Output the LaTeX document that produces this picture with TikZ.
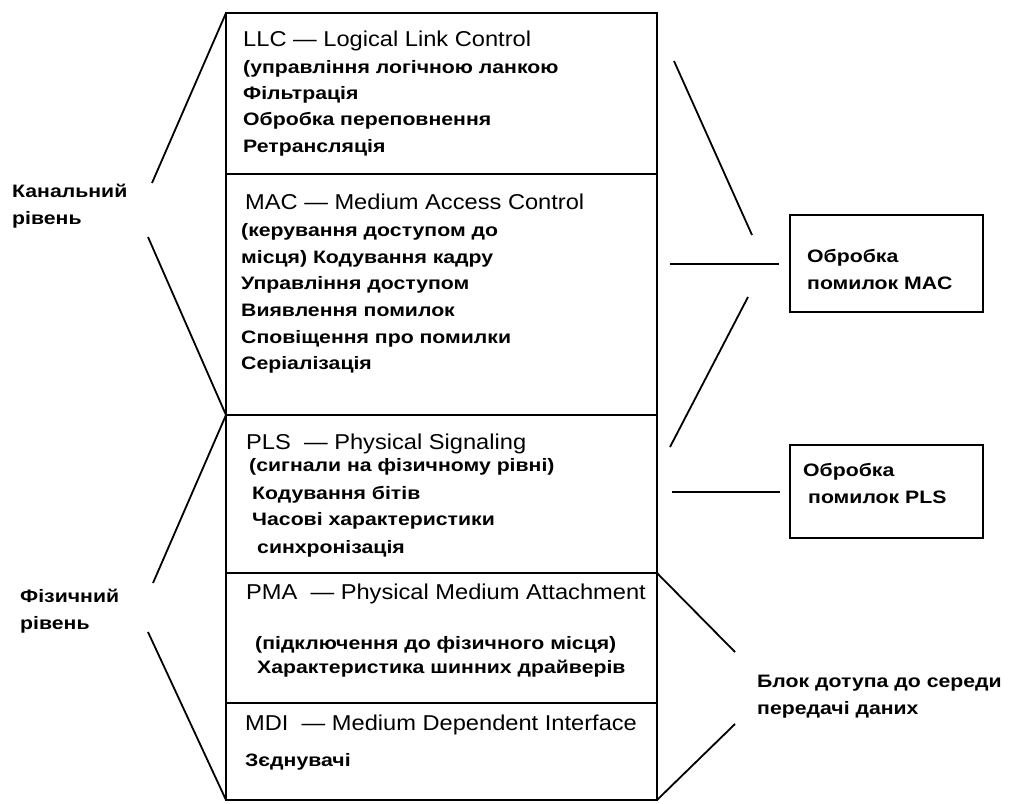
\documentclass[tikz,border=0pt]{standalone}
\usepackage{fontspec}
\newfontfamily\ttlfont[FakeStretch=1.1]{Liberation Sans}
\newfontfamily\bldfont[FakeStretch=1.18]{Liberation Sans}
\tikzset{
  layer/.style={draw, line width=1.8pt, minimum width=431pt, anchor=north west, inner sep=0pt, outer sep=0pt},
  sidebox/.style={draw, line width=1.8pt, minimum width=193pt, anchor=north west, inner sep=0pt, outer sep=0pt},
  ttl/.style={anchor=west, inner sep=0pt, text height=15.4pt, text depth=0pt, font=\ttlfont\fontsize{21.5}{24}\selectfont},
  txt/.style={anchor=west, inner sep=0pt, text height=12pt, text depth=0pt, font=\bldfont\bfseries\fontsize{18}{22}\selectfont},
  conn/.style={line width=1.8pt}
}
\begin{document}
\begin{tikzpicture}[x=1pt, y=-1pt]
\useasboundingbox (0,0) rectangle (1009,803);
% layers
\node[layer, minimum height=161pt] (llc) at (226,13) {};
\node[layer, minimum height=241pt] (mac) at (226,174) {};
\node[layer, minimum height=158pt] (pls) at (226,415) {};
\node[layer, minimum height=130pt] (pma) at (226,573) {};
\node[layer, minimum height=97pt] (mdi) at (226,703) {};
% LLC
\node[ttl] (llct) at (243,39) {LLC — Logical Link Control};
\node[txt] (llc1) at (243,67) {(управління логічною ланкою};
\node[txt] (llc2) at (243,93) {Фільтрація};
\node[txt] (llc3) at (243,119) {Обробка переповнення};
\node[txt] (llc4) at (243,146) {Ретрансляція};
% MAC
\node[ttl] (mact) at (245,202) {MAC — Medium Access Control};
\node[txt] (mac1) at (241,230) {(керування доступом до};
\node[txt] (mac2) at (241,257) {місця) Кодування кадру};
\node[txt] (mac3) at (241,283) {Управління доступом};
\node[txt] (mac4) at (241,310) {Виявлення помилок};
\node[txt] (mac5) at (241,337) {Сповіщення про помилки};
\node[txt] (mac6) at (241,363) {Серіалізація};
% PLS
\node[ttl] (plst) at (246,442) {PLS \ — Physical Signaling};
\node[txt] (pls1) at (249,465) {(сигнали на фізичному рівні)};
\node[txt] (pls2) at (252,493) {Кодування бітів};
\node[txt] (pls3) at (252,519) {Часові характеристики};
\node[txt] (pls4) at (257,547) {синхронізація};
% PMA
\node[ttl] (pmat) at (246,592) {PMA \ — Physical Medium Attachment};
\node[txt] (pma1) at (255,643) {(підключення до фізичного місця)};
\node[txt] (pma2) at (257,667) {Характеристика шинних драйверів};
% MDI
\node[ttl] (mdit) at (245,723) {MDI \ — Medium Dependent Interface};
\node[txt] (mdi1) at (245,760) {Зєднувачі};
% left labels
\node[txt] (kan1) at (12,191) {Канальний};
\node[txt] (kan2) at (12,218) {рівень};
\node[txt] (fiz1) at (20,596) {Фізичний};
\node[txt] (fiz2) at (20,623) {рівень};
% side boxes
\node[sidebox, minimum height=97pt] (macerr) at (790,215) {};
\node[sidebox, minimum height=93pt] (plserr) at (790,445) {};
\node[txt] (me1) at (807,256) {Обробка};
\node[txt] (me2) at (807,283) {помилок MAC};
\node[txt] (pe1) at (803,470) {Обробка};
\node[txt] (pe2) at (808,497) {помилок PLS};
\node[txt] (blk1) at (757,681) {Блок дотупа до середи};
\node[txt] (blk2) at (757,708) {передачі даних};
% connector free ends
\coordinate (k1) at (152,183);
\coordinate (k2) at (148,237);
\coordinate (f1) at (153,583);
\coordinate (f2) at (148,632);
\coordinate (r1a) at (674,61);
\coordinate (r1b) at (752,235);
\coordinate (r2a) at (670,264);
\coordinate (r3a) at (748,297);
\coordinate (r3b) at (670,447);
\coordinate (r4a) at (672,492);
\coordinate (b1) at (735,652);
\coordinate (b2) at (735,724);
% connectors
\draw[conn] (llc.north west) -- (k1);
\draw[conn] (k2) -- (mac.south west);
\draw[conn] (pls.north west) -- (f1);
\draw[conn] (f2) -- (mdi.south west);
\draw[conn] (r1a) -- (r1b);
\draw[conn, shorten >=11pt] (r2a) -- (macerr.west |- r2a);
\draw[conn] (r3a) -- (r3b);
\draw[conn, shorten >=10pt] (r4a) -- (plserr.west |- r4a);
\draw[conn] (pma.north east) -- (b1);
\draw[conn] (b2) -- (mdi.south east);
\end{tikzpicture}
\end{document}
